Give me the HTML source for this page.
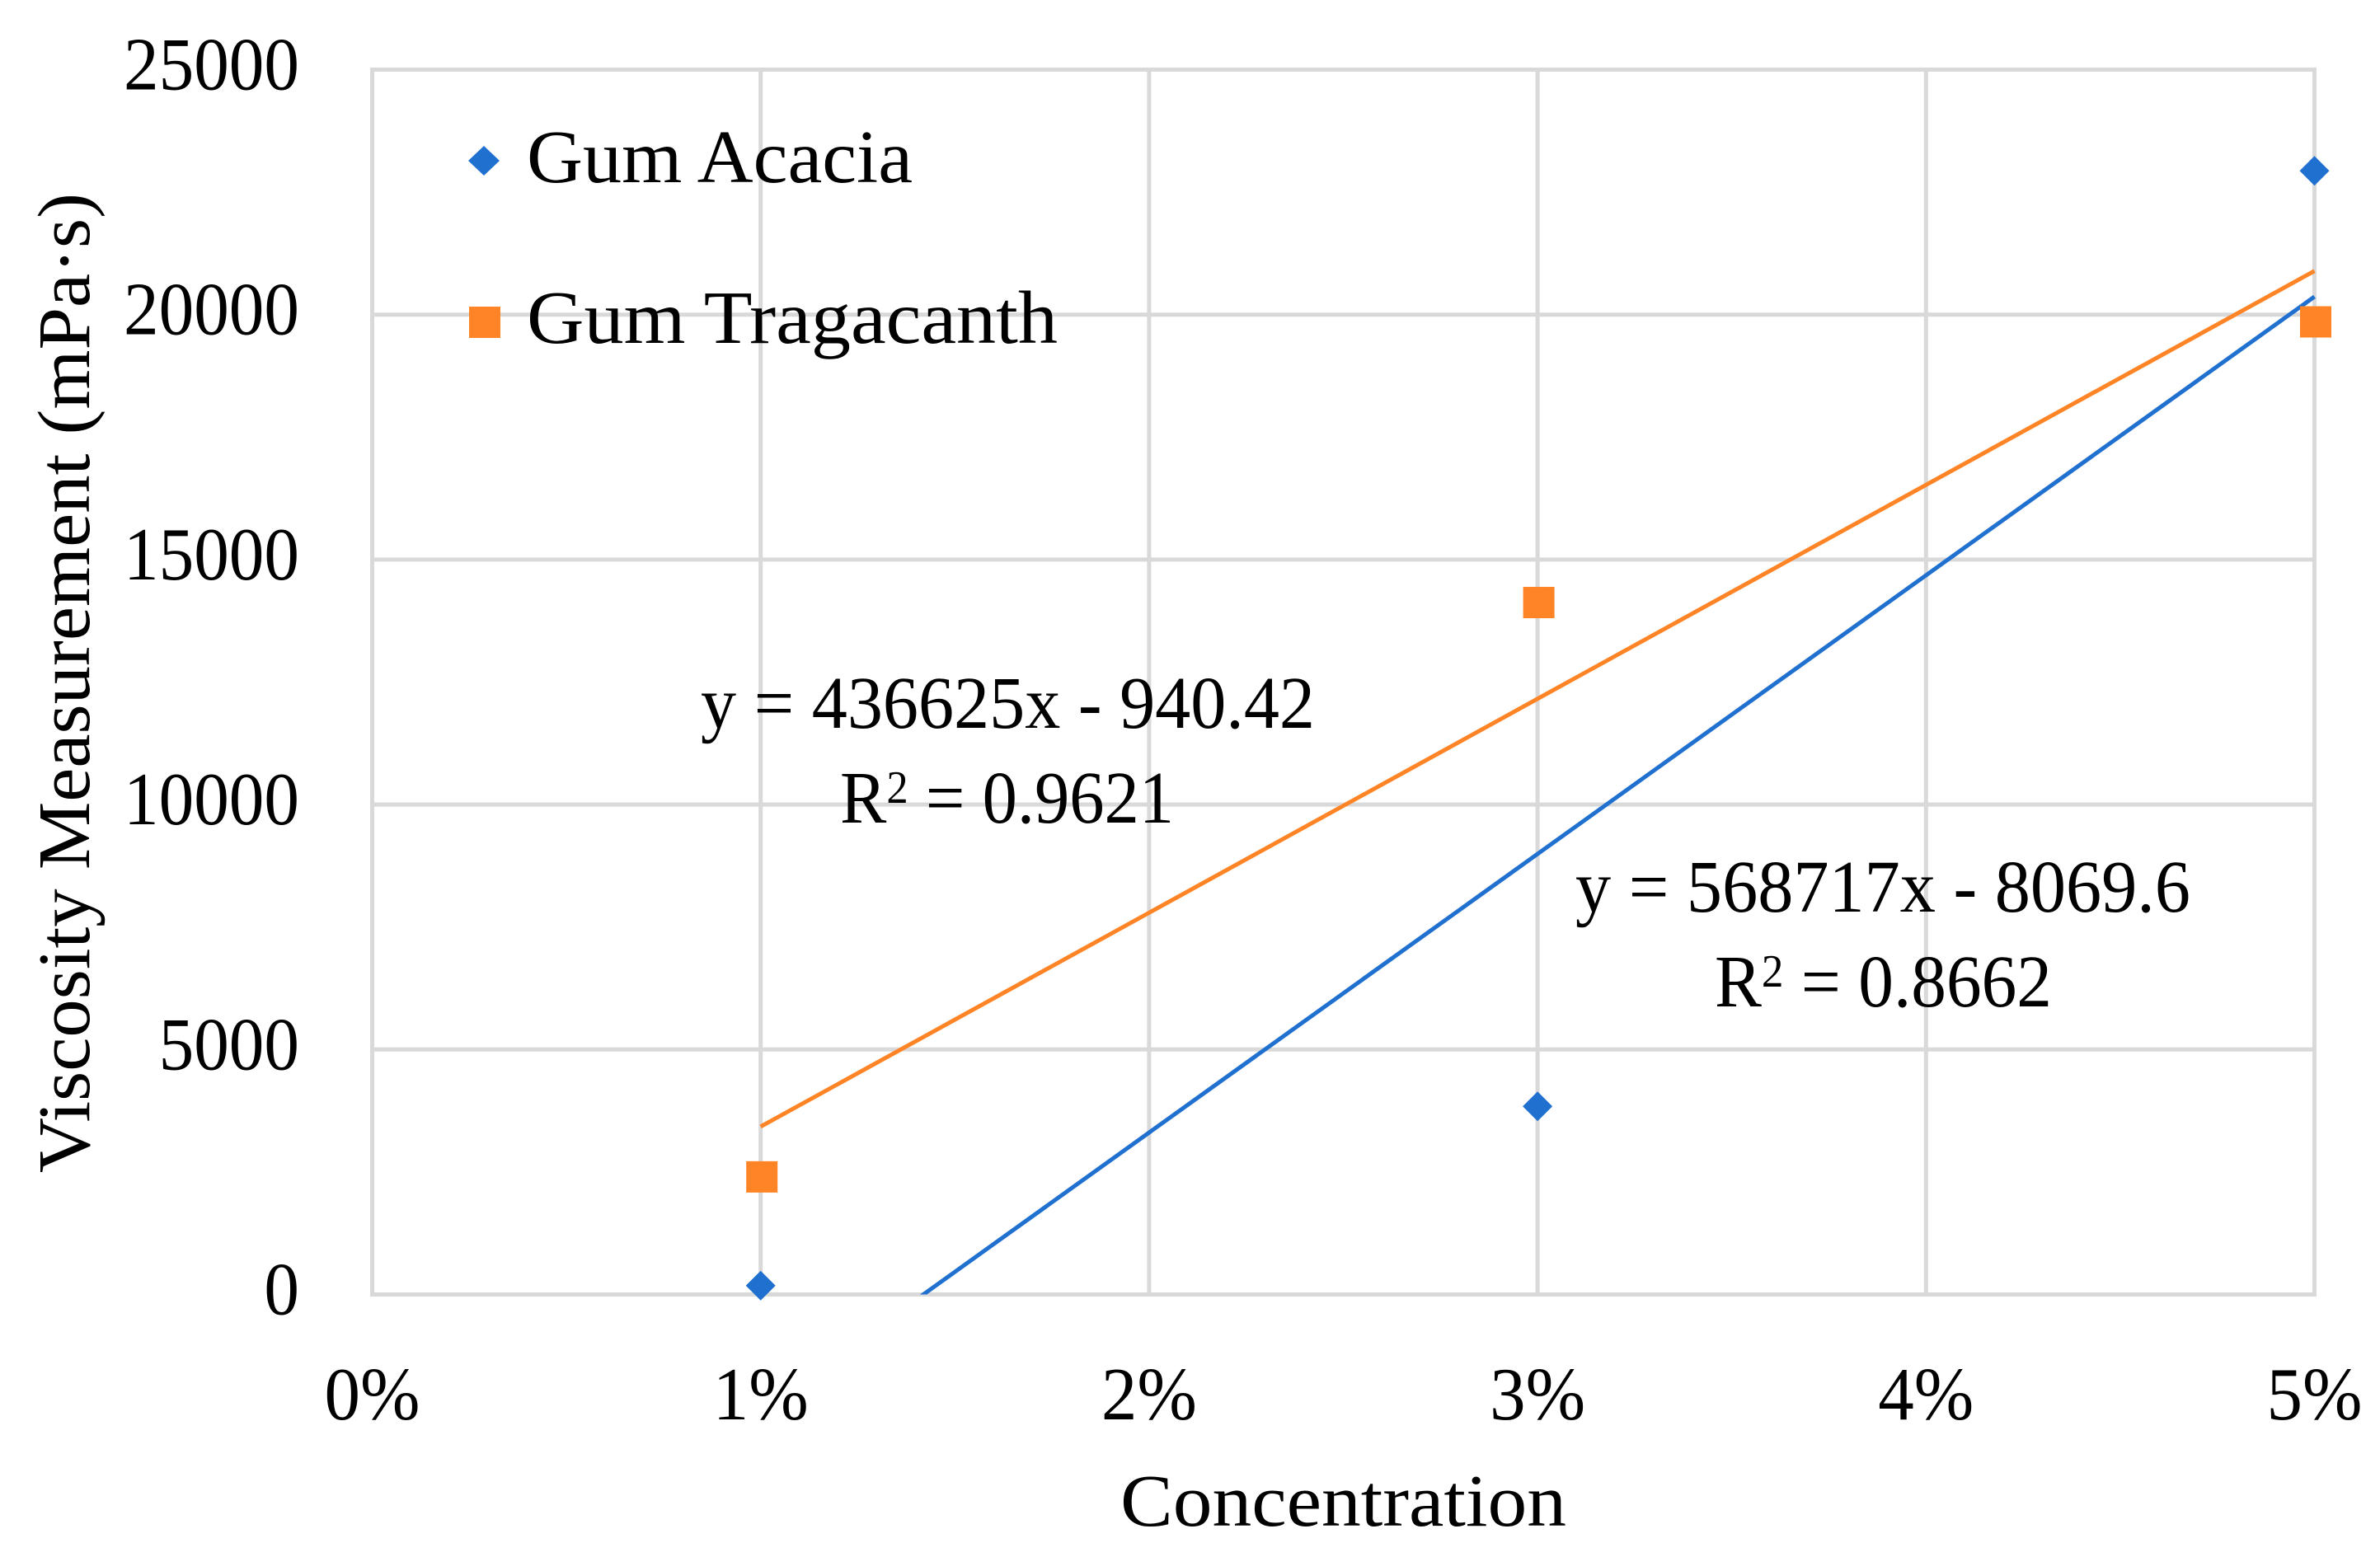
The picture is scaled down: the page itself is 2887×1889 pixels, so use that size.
<!DOCTYPE html>
<html>
<head>
<meta charset="utf-8">
<title>Viscosity vs Concentration</title>
<style>
html,body{margin:0;padding:0;background:#fff;}
svg{display:block;}
text{font-family:"Liberation Serif",serif;fill:#000;}
</style>
</head>
<body>
<svg id="chart" xmlns="http://www.w3.org/2000/svg" width="2887" height="1889" viewBox="0 0 2887 1889">
  <rect x="0" y="0" width="2887" height="1889" fill="#ffffff"/>
  <defs>
    <clipPath id="plot-clip"><rect x="440" y="70" width="2380" height="1500.5"/></clipPath>
  </defs>
  <g id="grid"></g>
  <g id="trends" clip-path="url(#plot-clip)"></g>
  <g id="points"></g>
  <g id="ticks"></g>

  <text transform="translate(108,1423) rotate(-90)" font-size="90" textLength="1189" lengthAdjust="spacingAndGlyphs">Viscosity Measurement (mPa·s)</text>
  <text x="1359" y="1851" font-size="90" textLength="541" lengthAdjust="spacingAndGlyphs">Concentration</text>

  <g>
    <polygon points="587,177 606,195 587,213 568,195" fill="#2070d0"/>
    <text x="639" y="221" font-size="91" textLength="468" lengthAdjust="spacingAndGlyphs">Gum Acacia</text>
    <rect x="569" y="372" width="38" height="38" fill="#ff8426"/>
    <text x="639" y="416" font-size="91" textLength="644" lengthAdjust="spacingAndGlyphs">Gum Tragacanth</text>
  </g>

  <text x="850" y="883" font-size="90" textLength="745" lengthAdjust="spacingAndGlyphs">y = 436625x - 940.42</text>
  <text x="1019" y="998" font-size="90" textLength="405" lengthAdjust="spacingAndGlyphs">R<tspan font-size="56" dy="-24">2</tspan><tspan dy="24"> = 0.9621</tspan></text>
  <text x="1911" y="1106" font-size="90" textLength="746" lengthAdjust="spacingAndGlyphs">y = 568717x - 8069.6</text>
  <text x="2080" y="1221" font-size="90" textLength="409" lengthAdjust="spacingAndGlyphs">R<tspan font-size="56" dy="-24">2</tspan><tspan dy="24"> = 0.8662</tspan></text>
</svg>
<script>
var xTickValues = [0, 0.01, 0.02, 0.03, 0.04, 0.05];
var xTickLabels = ["0%", "1%", "2%", "3%", "4%", "5%"];
var yTickValues = [0, 5000, 10000, 15000, 20000, 25000];
var yTickLabels = ["0", "5000", "10000", "15000", "20000", "25000"];
var concentrations = [0.01, 0.03, 0.05];
var gumAcaciaValues = [180, 3840, 22934];
var gumTragacanthValues = [2400, 14123, 19852];
var gumAcaciaTrend = [568717, -8069.6];
var gumTragacanthTrend = [436625, -940.42];

var NS = "http://www.w3.org/2000/svg";
function xScale(v) { return 451.5 + (v / 0.05) * 2356; }
function yScale(v) { return 1570.5 - (v / 25000) * 1486; }
function make(tag, attrs, parent) {
  var el = document.createElementNS(NS, tag);
  for (var k in attrs) { el.setAttribute(k, attrs[k]); }
  parent.appendChild(el);
  return el;
}
var gridG = document.getElementById("grid");
var trendG = document.getElementById("trends");
var pointG = document.getElementById("points");
var tickG = document.getElementById("ticks");

yTickValues.forEach(function (v, i) {
  var line = make("line", {x1: xScale(0) - 2.5, x2: xScale(0.05) + 2.5, y1: yScale(v), y2: yScale(v), stroke: "#d9d9d9", "stroke-width": 5}, gridG);
  
  
  var t = make("text", {x: 363, y: yScale(v) + 24, "text-anchor": "end", "font-size": 91, textLength: yTickLabels[i].length * 42.6, lengthAdjust: "spacingAndGlyphs"}, tickG);
  t.textContent = yTickLabels[i];
  
  
});
xTickValues.forEach(function (v, i) {
  var line = make("line", {x1: xScale(v), x2: xScale(v), y1: yScale(25000) - 2.5, y2: yScale(0) + 2.5, stroke: "#d9d9d9", "stroke-width": 5}, gridG);
  
  
  var t = make("text", {x: xScale(v), y: 1722, "text-anchor": "middle", "font-size": 91, textLength: 116, lengthAdjust: "spacingAndGlyphs"}, tickG);
  t.textContent = xTickLabels[i];
  
  
});

function trendLine(coef, color, parent) {
  var x0 = concentrations[0];
  var x1 = concentrations[concentrations.length - 1];
  return make("line", {
    x1: xScale(x0), y1: yScale(coef[0] * x0 + coef[1]),
    x2: xScale(x1), y2: yScale(coef[0] * x1 + coef[1]),
    stroke: color, "stroke-width": 5
  }, parent);
}
var acaciaLine = trendLine(gumAcaciaTrend, "#2070d0", trendG);


var tragacanthLine = trendLine(gumTragacanthTrend, "#ff8426", trendG);



concentrations.forEach(function (c, i) {
  var cx = xScale(c);
  var cy = yScale(gumAcaciaValues[i]);
  var d = make("polygon", {
    points: cx + "," + (cy - 18) + " " + (cx + 18) + "," + cy + " " + cx + "," + (cy + 18) + " " + (cx - 18) + "," + cy,
    fill: "#2070d0"
  }, pointG);
  
  
});
concentrations.forEach(function (c, i) {
  var cx = xScale(c) + 1.5;
  var cy = yScale(gumTragacanthValues[i]);
  var s = make("rect", {x: cx - 19, y: cy - 19, width: 38, height: 38, fill: "#ff8426"}, pointG);
  
  
});
</script>
</body>
</html>
